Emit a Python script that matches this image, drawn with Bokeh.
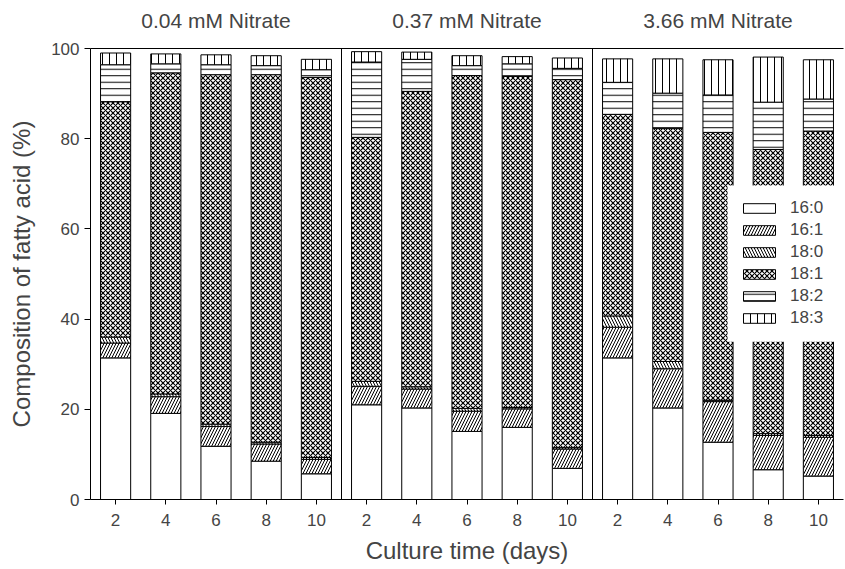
from bokeh.plotting import figure
from bokeh.models import (ColumnDataSource, FixedTicker, LinearAxis, Span, Range1d, BoxAnnotation)
from bokeh.embed import file_html
from bokeh.resources import INLINE

groups = ["0.04 mM Nitrate", "0.37 mM Nitrate", "3.66 mM Nitrate"]
days = [2, 4, 6, 8, 10]
acids = ["16:0", "16:1", "18:0", "18:1", "18:2", "18:3"]

c160 = [31.4, 19.1, 11.8, 8.5, 5.7, 21.0, 20.3, 15.1, 16.0, 6.9, 31.4, 20.3, 12.7, 6.6, 5.2]
c161 = [3.3, 3.7, 4.4, 3.8, 3.2, 4.1, 4.2, 4.5, 4.1, 4.3, 6.8, 8.7, 9.0, 7.6, 8.6]
c180 = [1.3, 0.6, 0.5, 0.4, 0.4, 1.1, 0.5, 0.6, 0.3, 0.3, 2.5, 1.6, 0.3, 0.4, 0.4]
c181 = [52.2, 71.2, 77.5, 81.5, 84.3, 54.1, 65.5, 73.8, 73.4, 81.6, 44.7, 51.7, 59.4, 63.0, 67.5]
c182 = [8.2, 2.0, 2.2, 2.0, 1.7, 16.7, 7.1, 2.2, 2.8, 2.5, 7.1, 7.8, 8.3, 10.5, 7.1]
c183 = [2.6, 2.2, 2.2, 2.2, 2.3, 2.3, 1.6, 2.2, 1.6, 2.3, 5.2, 7.6, 7.8, 10.0, 8.7]

n = len(groups) * len(days)
xs = list(range(n))
tick_labels = {i: str(days[i % len(days)]) for i in xs}

source = ColumnDataSource(dict(x=xs, a160=c160, a161=c161, a180=c180,
                               a181=c181, a182=c182, a183=c183))

FONT = "Liberation Sans"

p = figure(width=845, height=569, output_backend="svg", toolbar_location=None,
           x_range=Range1d(-0.5, 14.5), y_range=Range1d(0, 100),
           min_border_left=90, min_border_right=2, min_border_top=48, min_border_bottom=70)
p.outline_line_color = None
p.grid.visible = False
p.background_fill_color = "white"

patterns = [" ", "/", "\\", "x", "-", "|"]
scales = [6, 6, 6, 5, 6.5, 7]
weights = [1, 1, 1, 1.2, 1, 1]
p.vbar_stack(["a160", "a161", "a180", "a181", "a182", "a183"], x="x", width=0.6,
             source=source, fill_color="white", line_color="black", line_width=1,
             hatch_pattern=patterns, hatch_color="black", hatch_scale=scales,
             hatch_weight=weights, legend_label=acids)

for loc in [4.5, 9.5]:
    p.add_layout(Span(location=loc, dimension="height", line_color="black", line_width=1))

# white panel behind the legend (legend area of the original)
p.add_layout(BoxAnnotation(left=12.19, right=14.5, bottom=35.0, top=69.6,
                           fill_color="white", fill_alpha=1, line_color=None))

xa = p.xaxis[0]
xa.ticker = FixedTicker(ticks=xs)
xa.major_label_overrides = tick_labels
xa.minor_tick_line_color = None
xa.major_tick_out = 5
xa.major_tick_in = 0
xa.major_label_text_font = FONT
xa.major_label_text_font_size = "17px"
xa.major_label_standoff = 9
xa.axis_label = "Culture time (days)"
xa.axis_label_text_font = FONT
xa.axis_label_text_font_size = "24px"
xa.axis_label_text_font_style = "normal"
xa.axis_label_standoff = 8

ya = p.yaxis[0]
ya.ticker = FixedTicker(ticks=[0, 20, 40, 60, 80, 100])
ya.minor_tick_line_color = None
ya.major_tick_out = 6
ya.major_tick_in = 0
ya.major_label_text_font = FONT
ya.major_label_text_font_size = "17px"
ya.major_label_standoff = 5
ya.axis_label = "Composition of fatty acid (%)"
ya.axis_label_text_font = FONT
ya.axis_label_text_font_size = "24px"
ya.axis_label_text_font_style = "normal"
ya.axis_label_standoff = 13

top = LinearAxis(ticker=FixedTicker(ticks=[2, 7, 12]),
                 major_label_overrides={2: groups[0], 7: groups[1], 12: groups[2]})
top.major_tick_line_color = None
top.minor_tick_line_color = None
top.major_label_text_font = FONT
top.major_label_text_font_size = "21px"
top.major_label_standoff = 11
top.axis_line_color = "black"
p.add_layout(top, "above")

leg = p.legend[0]
leg.location = (649, 171)
leg.border_line_color = None
leg.background_fill_color = "white"
leg.background_fill_alpha = 1
leg.glyph_width = 40
leg.glyph_height = 12
leg.label_height = 20
leg.label_width = 40
leg.spacing = 2
leg.padding = 0
leg.label_standoff = 11
leg.label_text_font = FONT
leg.label_text_font_size = "17px"
leg.margin = 0

open("out.html", "w").write(file_html(p, INLINE))
